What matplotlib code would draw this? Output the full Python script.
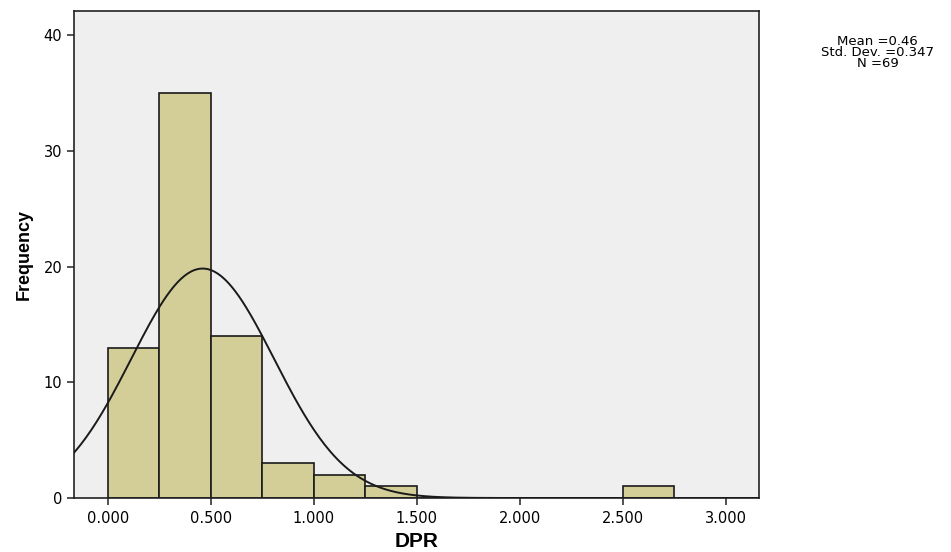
import numpy as np
import matplotlib.pyplot as plt

# histogram of DPR (SPSS output)
bin_edges = [0.0, 0.25, 0.5, 0.75, 1.0, 1.25, 1.5, 1.75, 2.0, 2.25, 2.5, 2.75]
counts = [13, 35, 14, 3, 2, 1, 0, 0, 0, 0, 1]
mean_dpr = 0.46
sd_dpr = 0.347
n_obs = 69
x_ticks = [0.0, 0.5, 1.0, 1.5, 2.0, 2.5, 3.0]
y_ticks = [0, 10, 20, 30, 40]

plt.rcParams["font.family"] = ["DejaVu Sans"]

fig = plt.figure(figsize=(9.51, 5.52), dpi=100)
ax = fig.add_axes([0.0778, 0.0978, 0.7204, 0.8824])
ax.set_facecolor("#efefef")

widths = np.diff(bin_edges)
ax.bar(bin_edges[:-1], counts, width=widths, align="edge",
       color="#d3ce97", edgecolor="#1a1a1a", linewidth=1.2, zorder=2)

# fitted normal curve scaled to the histogram
xmin, xmax = -0.165, 3.163
xs = np.linspace(xmin, xmax, 400)
bw = widths[0]
ys = n_obs * bw / (sd_dpr * np.sqrt(2 * np.pi)) * np.exp(-0.5 * ((xs - mean_dpr) / sd_dpr) ** 2)
ax.plot(xs, ys, color="#1a1a1a", linewidth=1.4, zorder=3)

ax.set_xlim(xmin, xmax)
ax.set_ylim(0, 42.1)
ax.set_xticks(x_ticks)
ax.set_xticklabels([f"{t:.3f}" for t in x_ticks])
ax.set_yticks(y_ticks)
ax.tick_params(direction="out", length=5, width=1.2, labelsize=10.5, color="#333333")
ax.tick_params(axis="x", pad=4)
for s in ax.spines.values():
    s.set_linewidth(1.2)
    s.set_color("#222222")

ax.set_xlabel("DPR", fontsize=15, fontweight="bold", labelpad=5,
              family=["Liberation Sans", "DejaVu Sans"])
ax.set_ylabel("Frequency", fontsize=13, fontweight="bold", labelpad=8,
              family=["Liberation Sans", "DejaVu Sans"])

fig.text(0.923, 0.937, f"Mean ={mean_dpr}\nStd. Dev. ={sd_dpr}\nN ={n_obs}",
         ha="center", va="top", fontsize=9.5, linespacing=0.8)

fig.savefig("out.png", dpi=100)
